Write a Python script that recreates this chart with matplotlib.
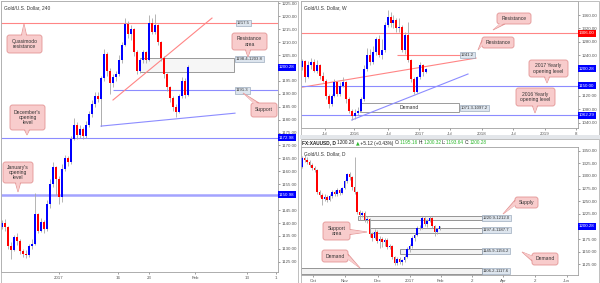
import numpy as np
import matplotlib
matplotlib.use("Agg")
import matplotlib.pyplot as plt
from matplotlib.patches import Rectangle, FancyBboxPatch, Polygon

plt.rcParams['font.family'] = ['Liberation Sans', 'DejaVu Sans']

# ---------------- 4h data (Gold/U.S. Dollar, 240) ----------------
h4_first_open = 1138.5
h4_close = [1140, 1138.5, 1131, 1129.5, 1134.5, 1133, 1129, 1128, 1127.5, 1131,
            1132, 1143.5, 1137, 1140.5, 1137.5, 1147.5, 1155, 1161.5, 1157, 1150,
            1161, 1165, 1163.5, 1172.5, 1178, 1174, 1176.5, 1173.5, 1178, 1182,
            1186, 1189, 1188, 1196, 1205.5, 1199, 1194, 1196.5, 1197.5, 1203,
            1209, 1217, 1213, 1215, 1206, 1199, 1203, 1206, 1203, 1217.5,
            1214, 1216.5, 1210, 1204, 1197.5, 1192.5, 1188.5, 1185, 1183, 1189,
            1195, 1189.5, 1200.28]
h4_high = [1141, 1141.5, 1139, 1132.5, 1135.5, 1136, 1134, 1130, 1129.5, 1132,
           1134, 1151.5, 1144, 1142, 1141, 1149, 1157, 1163.5, 1162, 1158,
           1163, 1166.5, 1166, 1173.5, 1180.5, 1179, 1178, 1177, 1179.5, 1183.5,
           1187.5, 1190.5, 1190.5, 1197, 1207.5, 1206, 1200, 1197.5, 1199, 1205,
           1210, 1219.5, 1218, 1216.5, 1215.5, 1207, 1204, 1207, 1206.5, 1220.5,
           1219.5, 1221, 1217, 1210.5, 1204.5, 1198, 1193, 1189, 1186, 1190,
           1196.5, 1196, 1201]
h4_low = [1137.5, 1137, 1130, 1126, 1129, 1131.5, 1128, 1127, 1126.5, 1127,
          1130, 1131.5, 1136, 1136.5, 1136, 1137, 1146, 1154, 1151, 1147.5,
          1148, 1160, 1162, 1163, 1172, 1172.5, 1173, 1172.5, 1173, 1177,
          1181, 1185, 1187, 1187.5, 1195, 1197, 1190, 1192.5, 1195, 1197,
          1202, 1208.5, 1211.5, 1211, 1204.5, 1197.5, 1198, 1202, 1202, 1202.5,
          1213, 1213, 1209, 1202.5, 1196, 1191, 1187, 1183.5, 1181, 1182.5,
          1188.5, 1188.5, 1189]
h4_ticks = ['2017', '16', '23', 'Feb', '13', '1']

# ---------------- Weekly data ----------------
w_first_open = 1205
w_close = [1222, 1175, 1210, 1220, 1195, 1212, 1180, 1165, 1120, 1095,
           1120, 1160, 1125, 1150, 1160, 1110, 1075, 1060, 1068, 1075,
           1110, 1200, 1240, 1220, 1250, 1290, 1240, 1255, 1330, 1355,
           1335, 1345, 1320, 1325, 1255, 1300, 1225, 1170, 1130, 1175,
           1212, 1190, 1200.28]
w_high = [1228, 1225, 1222, 1232, 1228, 1225, 1215, 1190, 1170, 1125,
          1125, 1170, 1165, 1160, 1175, 1165, 1115, 1080, 1080, 1088,
          1115, 1210, 1262, 1260, 1268, 1295, 1300, 1290, 1340, 1375,
          1370, 1360, 1352, 1350, 1330, 1310, 1338, 1230, 1175, 1180,
          1220, 1215, 1202]
w_low = [1198, 1162, 1172, 1200, 1190, 1188, 1170, 1160, 1110, 1085,
         1090, 1115, 1118, 1120, 1145, 1100, 1068, 1048, 1050, 1062,
         1072, 1105, 1195, 1210, 1215, 1240, 1235, 1230, 1250, 1325,
         1325, 1320, 1310, 1310, 1250, 1245, 1220, 1160, 1124, 1128,
         1170, 1180, 1188]
w_ticks = ['Jul', '2016', 'Jul', '2017', 'Jul', '2018', 'Jul', '2019', '8']

# ---------------- Daily data ----------------
d_first_open = 1318
d_close = [1336, 1332, 1328, 1322, 1316, 1312, 1268, 1262, 1254, 1258,
           1253, 1260, 1268, 1264, 1272, 1266, 1277, 1290, 1303, 1297,
           1278, 1268, 1228, 1222, 1226, 1212, 1214, 1186, 1178, 1190,
           1172, 1176, 1170, 1174, 1160, 1162, 1140, 1128, 1136, 1130,
           1133, 1140, 1156, 1162, 1178, 1184, 1196, 1197, 1216, 1204,
           1210, 1216, 1200, 1189, 1195.16, 1200.28]
d_high = [1340, 1342, 1338, 1332, 1326, 1320, 1314, 1272, 1266, 1264,
          1262, 1264, 1272, 1272, 1276, 1275, 1279, 1292, 1306, 1308,
          1300, 1338, 1270, 1232, 1231, 1230, 1220, 1216, 1190, 1195,
          1193, 1182, 1180, 1178, 1177, 1166, 1164, 1142, 1140, 1140,
          1136, 1143, 1160, 1165, 1182, 1188, 1200, 1203, 1220, 1218,
          1214, 1220, 1218, 1202, 1197, 1200.32]
d_low = [1315, 1328, 1323, 1318, 1312, 1308, 1265, 1258, 1242, 1250,
         1248, 1250, 1257, 1260, 1261, 1262, 1264, 1274, 1287, 1292,
         1272, 1264, 1224, 1212, 1218, 1208, 1206, 1180, 1172, 1175,
         1168, 1158, 1160, 1162, 1155, 1156, 1136, 1124, 1124, 1125,
         1124, 1130, 1138, 1150, 1158, 1172, 1182, 1193, 1195, 1200,
         1199, 1208, 1196, 1182, 1186, 1193.64]
d_ticks = ['Oct', 'Nov', 'Dec', '2017', 'Feb', '2', 'Apr', '2', 'Jun']

# ---------------- figure ----------------
W, H = 600, 283
fig = plt.figure(figsize=(W / 100, H / 100), dpi=100)

BLUE = '#0000ff'; RED = '#ff0000'; WICK = '#a8a8a8'
LBLUE = '#8c8cff'; LRED = '#ff8585'
PINK_FC = '#f8cccc'; PINK_EC = '#e39494'


def px_axes(x0, y0, x1, y1, z=1):
    return fig.add_axes([x0 / W, 1 - y1 / H, (x1 - x0) / W, (y1 - y0) / H], zorder=z)


def draw_candles(ax, first_x, step, first_open, close, high, low, width):
    close = np.asarray(close, float)
    high = np.asarray(high, float)
    low = np.asarray(low, float)
    opens = np.concatenate([[first_open], close[:-1]])
    xs = first_x + step * np.arange(len(close))
    up = close >= opens
    ax.vlines(xs, low, high, colors=WICK, lw=0.6, zorder=3)
    ax.bar(xs, np.abs(close - opens), width, bottom=np.minimum(opens, close),
           color=np.where(up, BLUE, RED), lw=0, zorder=4)


def style_axes(ax, width_px, height_px, ylim, yticks, xticks, xlabels, title, tags):
    ax.set_xlim(0, width_px)
    ax.set_ylim(*ylim)
    ax.yaxis.tick_right()
    ppu = height_px / (ylim[1] - ylim[0])
    labels = []
    for v in yticks:
        hidden = any(abs(v - t) * ppu < 4.0 for t in tags)
        labels.append('' if hidden else f"{v:.2f}")
    ax.set_yticks(yticks)
    ax.set_yticklabels(labels)
    ax.set_xticks(xticks)
    ax.set_xticklabels(xlabels)
    ax.tick_params(axis='both', labelsize=3.2, colors='#555555', length=1.5,
                   width=0.4, pad=1.2)
    for s in ax.spines.values():
        s.set_color('#a0a0a0')
        s.set_linewidth(0.6)
    ax.annotate(title, xy=(0, 1), xycoords='axes fraction', xytext=(3, -4),
                textcoords='offset pixels', ha='left', va='top', fontsize=3.5,
                color='#333333', zorder=8)


def level_tag(ax, x, y, text):
    ax.text(x, y, text, fontsize=3.1, color='#333333', ha='left', va='center', zorder=6,
            bbox=dict(boxstyle='square,pad=0.25', fc='#dde5ee', ec='#8a9bb0', lw=0.4))


def axis_tag(ax, y, text, fc):
    ax.text(1.004, y, text, transform=ax.get_yaxis_transform(), fontsize=3.2,
            color='white', ha='left', va='center', zorder=9, clip_on=False,
            bbox=dict(boxstyle='square,pad=0.3', fc=fc, ec='none'))


# ---------------- Left panel: 4h ----------------
ax1 = px_axes(1, 1, 278, 272)
tags1 = [(h4_close[-1], BLUE), (1172.98, BLUE), (1150.98, BLUE)]
style_axes(ax1, 277, 271, (1121.05, 1225.9), np.arange(1125, 1226, 5),
           [58, 117, 148, 194, 246, 275], h4_ticks, 'Gold/U.S. Dollar, 240',
           [t for t, _ in tags1])
ax1.axhline(1217.5, color=LRED, lw=0.8, zorder=2)
ax1.hlines(1191.3, 112, 277, color=LBLUE, lw=0.8, zorder=2)
ax1.axhline(1172.98, color=LBLUE, lw=0.8, zorder=2)
ax1.axhline(1150.98, color='#a3a3ff', lw=1.8, zorder=2)
ax1.add_patch(Rectangle((139, 1198.4), 94, 5.4, fc='#f6f6f6', ec='#8c8c8c', lw=0.6, zorder=1))
ax1.plot([112, 211], [1187.6, 1219.3], color=LRED, lw=0.8, zorder=2)
ax1.plot([100, 100], [1188.7, 1177.5], color='#a0a0a0', lw=0.6, zorder=2)
ax1.plot([100, 234], [1177.5, 1182.5], color=LBLUE, lw=0.8, zorder=2)
draw_candles(ax1, 1, 3, h4_first_open, h4_close, h4_high, h4_low, 2.0)
level_tag(ax1, 236, 1217.5, '1217.5')
level_tag(ax1, 235, 1203.3, '1198.4-1203.8')
level_tag(ax1, 235, 1191.3, '1191.3')
for v, c in tags1:
    axis_tag(ax1, v, f"{v:.2f}", c)

# ---------------- Top right: weekly ----------------
ax2 = px_axes(301, 1, 578, 128)
tags2 = [(1306, RED), (w_close[-1], BLUE), (1150, BLUE), (1062.29, BLUE)]
style_axes(ax2, 277, 127, (1024.3, 1401.6), np.arange(1040, 1361, 40),
           [24, 53.3, 87.3, 118.3, 149, 180.7, 212.3, 244, 275], w_ticks,
           'Gold/U.S. Dollar, W', [t for t, _ in tags2])
ax2.axhline(1306, color=LRED, lw=0.8, zorder=2)
ax2.hlines(1241.2, 96, 160, color=LRED, lw=0.8, zorder=2)
ax2.plot([0, 175], [1145, 1232], color=LRED, lw=0.8, zorder=2)
ax2.plot([50.7, 167], [1048, 1184.7], color=LBLUE, lw=0.8, zorder=2)
ax2.axhline(1150, color=LBLUE, lw=0.8, zorder=2)
ax2.axhline(1062.29, color=LBLUE, lw=0.8, zorder=2)
ax2.add_patch(Rectangle((59, 1071.3), 99, 25.9, fc='white', ec='#8c8c8c', lw=0.6, zorder=1))
ax2.text(108.5, 1084.25, 'Demand', fontsize=3.6, color='#333333', ha='center', va='center', zorder=5)
draw_candles(ax2, 1, 2.95, w_first_open, w_close, w_high, w_low, 2.0)
level_tag(ax2, 160, 1241.2, '1241.2')
level_tag(ax2, 160, 1084, '1071.3-1097.2')
for v, c in tags2:
    axis_tag(ax2, v, f"{v:.2f}", c)

# ---------------- Bottom right: daily ----------------
ax3 = px_axes(301, 147, 578, 275)
tags3 = [(d_close[-1], BLUE)]
style_axes(ax3, 277, 128, (1103.9, 1357.3), np.arange(1125, 1351, 25),
           [12.3, 44, 76.7, 109, 139.7, 170.7, 202.3, 234, 265.7], d_ticks,
           'Gold/U.S. Dollar, D', [t for t, _ in tags3])
zones = [(57, 1212.0, 1220.9, '1220.9-1212.0'),
         (69, 1187.7, 1197.4, '1197.4-1187.7'),
         (99, 1145.9, 1156.2, '1145.9-1156.2'),
         (0, 1106.2, 1117.6, '1106.2-1117.6')]
for x0, lo, hi, lab in zones:
    ax3.add_patch(Rectangle((x0, lo), 181 - x0, hi - lo, fc='#f3f3f3', ec='#858585', lw=0.6, zorder=1))
    level_tag(ax3, 182, (lo + hi) / 2, lab)
draw_candles(ax3, 1, 2.5, d_first_open, d_close, d_high, d_low, 1.8)
for v, c in tags3:
    axis_tag(ax3, v, f"{v:.2f}", c)

# ---------------- overlay (pixel coordinates) ----------------
ov = fig.add_axes([0, 0, 1, 1], zorder=20)
ov.set_xlim(0, W)
ov.set_ylim(H, 0)
ov.axis('off')
ov.patch.set_visible(False)

ov.add_patch(Rectangle((0.5, 0.5), 297.5, 282, fill=False, ec='#b4b4b4', lw=0.6))
ov.add_patch(Rectangle((300.5, 0.5), 298, 134.5, fill=False, ec='#b4b4b4', lw=0.6))
ov.add_patch(Rectangle((300, 135.2), 300, 3.6, fc='#e3e6ea', ec='none'))
ov.add_patch(Rectangle((300.5, 139), 298, 143.5, fill=False, ec='#b4b4b4', lw=0.6))


def callout(x0, y0, x1, y1, text, tip):
    tx, ty = tip
    dx = max(x0 - tx, tx - x1, 0)
    dy = max(y0 - ty, ty - y1, 0)
    hw = 2.5
    if dy >= dx:
        bx = min(max(tx, x0 + 3 + hw), x1 - 3 - hw)
        ey = y1 if ty > y1 else y0
        inw = -1 if ty > y1 else 1
        base = [(bx - hw, ey), (bx + hw, ey)]
        inner = [(bx - hw + 0.3, ey + inw * 1.2), (bx + hw - 0.3, ey + inw * 1.2)]
    else:
        by = min(max(ty, y0 + 3 + hw), y1 - 3 - hw)
        ex = x1 if tx > x1 else x0
        inw = -1 if tx > x1 else 1
        base = [(ex, by - hw), (ex, by + hw)]
        inner = [(ex + inw * 1.2, by - hw + 0.3), (ex + inw * 1.2, by + hw - 0.3)]
    ov.add_patch(Polygon([base[0], tip, base[1]], closed=True, fc=PINK_FC, ec=PINK_EC, lw=0.6, zorder=1))
    ov.add_patch(FancyBboxPatch((x0, y0), x1 - x0, y1 - y0,
                                boxstyle='round,pad=0,rounding_size=2.5',
                                fc=PINK_FC, ec=PINK_EC, lw=0.6, zorder=2))
    ov.add_patch(Polygon([inner[0], tip, inner[1]], closed=True, fc=PINK_FC, ec='none', zorder=3))
    ov.text((x0 + x1) / 2, (y0 + y1) / 2, text, ha='center', va='center', fontsize=3.6,
            color='#333333', linespacing=1.0, zorder=4)


callout(7, 35, 42, 53, 'Quasimodo\nresistance', (24, 24))
callout(232, 33, 267, 50, 'Resistance\narea', (248, 57))
callout(251, 103, 277, 117, 'Support', (243, 93))
callout(10, 105, 45, 130, "December's\nopening\nlevel", (27, 135))
callout(3, 162, 33, 183, "January's\nopening\nlevel", (18, 192))

callout(497, 13, 531, 24, 'Resistance', (493, 30))
callout(482, 37, 514, 48, 'Resistance', (478, 50))
callout(529, 60, 568, 77, '2017 Yearly\nopening level', (547, 83))
callout(516, 88, 555, 106, '2016 Yearly\nopening level', (535, 113))

callout(515, 197, 538, 208, 'Supply', (503, 214))
callout(323, 222, 350, 240, 'Support\narea', (367, 232))
callout(322, 250, 348, 262, 'Demand', (360, 268))
callout(532, 253, 558, 265, 'Demand', (522, 252))

# header line of the daily chart
GREEN = '#2eb82e'
pieces = [('FX:XAUUSD, D ', '#222222', 'bold'), ('1200.28 ', '#222222', 'normal'),
          ('\u25b2', GREEN, 'normal'), (' +5.12 (+0.43%) ', '#222222', 'normal'),
          ('O:', '#222222', 'normal'), ('1195.16 ', GREEN, 'normal'),
          ('H:', '#222222', 'normal'), ('1200.32 ', GREEN, 'normal'),
          ('L:', '#222222', 'normal'), ('1193.64 ', GREEN, 'normal'),
          ('C:', '#222222', 'normal'), ('1200.28', GREEN, 'normal')]
prev = ov.text(302, 144.5, pieces[0][0], color=pieces[0][1], fontweight=pieces[0][2],
               fontsize=3.4, ha='left', va='baseline', zorder=5)
for s, c, wgt in pieces[1:]:
    prev = ov.annotate(s, xy=(1, 0), xycoords=prev, ha='left', va='bottom',
                       color=c, fontweight=wgt, fontsize=3.4, zorder=5,
                       family=['DejaVu Sans'] if s == '\u25b2' else None)

fig.savefig('out.png', dpi=100)
